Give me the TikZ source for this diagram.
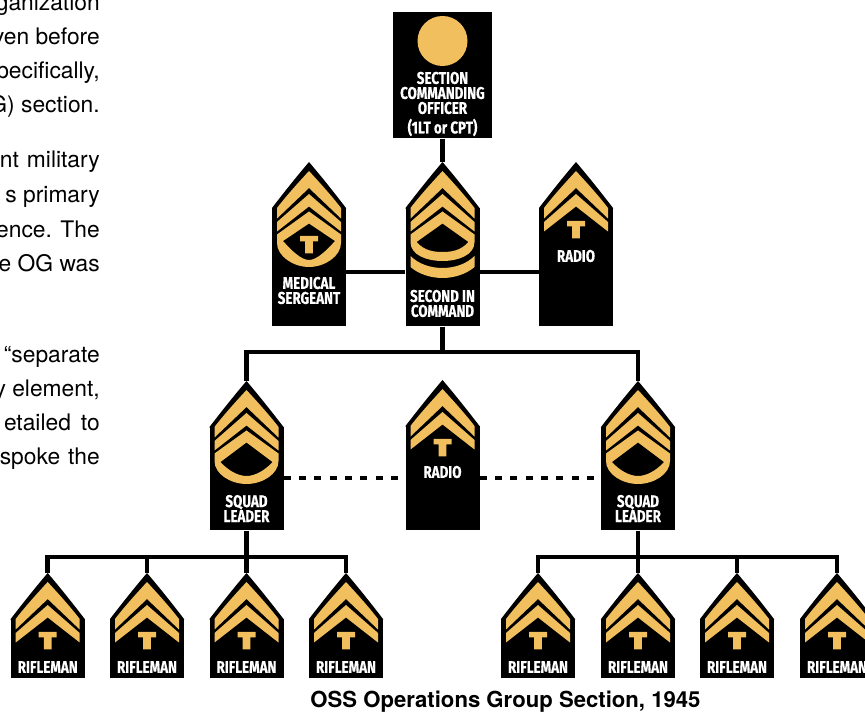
\documentclass[tikz,border=0pt]{standalone}
\usepackage{fontspec}
\setmainfont{TeX Gyre Heros}
\newfontfamily\labf[FakeStretch=0.785,BoldFeatures={FakeBold=0.5}]{Fira Sans}
\definecolor{gold}{RGB}{242,191,94}
\tikzset{
  badgebody/.style={fill=black,draw=none,inner sep=0pt,minimum width=55.5pt},
  goldfill/.style={fill=gold,draw=none},
  conn/.style={draw=black,line width=3.4pt,line cap=butt},
  dotconn/.style={draw=black,line width=3.6pt,dash pattern=on 5.2pt off 6.3pt},
  badgelabel/.style={text=white,inner sep=0pt,align=center,font=\labf\bfseries\fontsize{12.8pt}{11.2pt}\selectfont},
  bodytext/.style={anchor=base east,inner sep=0pt,font=\fontsize{17.1pt}{18pt}\selectfont},
}
% #1 name, #2 cx, #3 apex y, #4 bottom y
\newcommand{\badgeshape}[4]{%
  \coordinate (#1-top) at (#2,#3);
  \pgfmathsetmacro{\bshy}{#3+46}
  \pgfmathsetmacro{\bhgt}{(#4-\bshy)*0.75}
  \node[badgebody,minimum height=\bhgt pt,anchor=north] (#1) at (#2,\bshy) {};
  \begin{scope}[shift={(#2,#3)}]
  \fill[black] (0,0) .. controls (12.8,15) and (25.5,31) .. (37,46) -- (37,47) -- (-37,47) -- (-37,46) .. controls (-25.5,31) and (-12.8,15) .. (0,0) -- cycle;
  \end{scope}
}
\newcommand{\chevA}{%
  \fill[goldfill] (0,9) .. controls (11,21) and (22,33) .. (32,46) -- (32,56.5) -- (0,26) -- (-32,56.5) -- (-32,46) .. controls (-22,33) and (-11,21) .. (0,9) -- cycle;
  \fill[goldfill] (0,32) -- (32,60) -- (32,69.5) -- (0,44.5) -- (-32,69.5) -- (-32,60) -- cycle;}
\newcommand{\chevarc}[4]{% #1 outer bottom, #2 inner bottom, #3 inner end y, #4 outer side y
  \fill[goldfill,even odd rule] (0,49.5) -- (32,72.5) -- (32,#4) .. controls (32,#4+13) and (16,#1) .. (0,#1) .. controls (-16,#1) and (-32,#4+13) .. (-32,#4) -- (-32,72.5) -- cycle
   (0,61.5) -- (26,#3) .. controls (18,#3+9) and (8,#2) .. (0,#2) .. controls (-8,#2) and (-18,#3+9) .. (-26,#3) -- cycle;}
\newcommand{\teemark}[1]{% #1 top of the bar
  \fill[goldfill] (-9,#1) -- (9,#1) -- (9,#1+5.5) -- (3.8,#1+5.5) -- (3.8,#1+17.5) -- (-3.8,#1+17.5) -- (-3.8,#1+5.5) -- (-9,#1+5.5) -- cycle;}
\begin{document}
\begin{tikzpicture}[x=0.75pt,y=-0.75pt]
\useasboundingbox (0,0) rectangle (865,712);
% left text
\foreach \tid/\ty/\tx in {a/11/{ganization},b/45/{ven before},c/79/{pecifically,},d/113/{G) section.},
   e/168/{nt\hspace{6pt}military},f/203/{s primary},g/238/{ence. The},h/272/{e OG was},
   i/363/{``separate},j/397/{y element,},k/431/{etailed\hspace{7.5pt}to},l/465/{spoke\hspace{6pt}the}}
  {\node[bodytext] (txt\tid) at (100,\ty) {\tx};}
% commanding officer
\node[badgebody,minimum width=74.25pt,minimum height=94.5pt,anchor=north] (cso) at (442.5,12) {};
\node[circle,fill=gold,draw=none,minimum size=37.5pt,inner sep=0pt] (csoring) at (442.5,41) {};
\node[badgelabel] (csol1) at (442.5,78) {SECTION};
\node[badgelabel] (csol2) at (442.5,93) {COMMANDING};
\node[badgelabel] (csol3) at (442.5,108) {OFFICER};
\node[badgelabel] (csol4) at (442.5,127.5) {(1LT or CPT)};
% medical sergeant
\badgeshape{med}{309}{162}{326}
\begin{scope}[shift={(309,162)}]\chevA\chevarc{105}{98}{79}{81}\teemark{74}
\node[badgelabel] (medl) at (0,128.5) {MEDICAL\\SERGEANT};\end{scope}
% second in command
\badgeshape{sec}{442.5}{162}{326}
\begin{scope}[shift={(442.5,162)}]\chevA\chevarc{99}{90}{80}{80}
\fill[goldfill] (32,94) .. controls (24,102) and (12,106) .. (0,106) .. controls (-12,106) and (-24,102) .. (-32,94) -- (-32,105) .. controls (-24,112) and (-12,116) .. (0,116) .. controls (12,116) and (24,112) .. (32,105) -- cycle;
\node[badgelabel] (secl) at (0,141.5) {SECOND IN\\COMMAND};\end{scope}
% radio, top
\badgeshape{radt}{576}{162}{326}
\begin{scope}[shift={(576,162)}]\chevA\teemark{59}
\node[badgelabel] (radtl) at (0,94) {RADIO};\end{scope}
% squad leaders
\badgeshape{sql}{246.5}{381}{530}
\begin{scope}[shift={(246.5,381)}]\chevA\chevarc{103}{95}{81}{80}
\node[badgelabel] (sqll) at (0,127.5) {SQUAD\\LEADER};\end{scope}
\badgeshape{sqr}{638}{381}{530}
\begin{scope}[shift={(638,381)}]\chevA\chevarc{103}{95}{81}{80}
\node[badgelabel] (sqrl) at (0,127.5) {SQUAD\\LEADER};\end{scope}
% radio, middle
\badgeshape{radm}{442.5}{380}{530}
\begin{scope}[shift={(442.5,380)}]\chevA\teemark{59}
\node[badgelabel] (radml) at (0,92) {RADIO};\end{scope}
% riflemen
\foreach \rid/\rx in {a/47.7,b/147,c/246.5,d/346,e/538,f/638,g/737,h/837}{
  \badgeshape{rf\rid}{\rx}{573}{678}
  \begin{scope}[shift={(\rx,573)}]\chevA\teemark{59}
  \node[badgelabel] (rfl\rid) at (0,94) {RIFLEMAN};\end{scope}
}
% connectors
\coordinate (hubtop) at (442.5,272);
\coordinate (barmain) at (442.5,352);
\coordinate (barleft) at (246.5,557);
\coordinate (barright) at (638,557);
\coordinate (dotrow) at (442.5,478);
\draw[conn] (cso.south) -- (sec-top);
\draw[conn] (med.east |- hubtop) -- (sec.west |- hubtop);
\draw[conn] (sec.east |- hubtop) -- (radt.west |- hubtop);
\draw[conn] (sec.south) -- (barmain);
\draw[conn] (sql-top) |- (barmain) -| (sqr-top);
\draw[dotconn] (sql.east |- dotrow) -- (radm.west |- dotrow);
\draw[dotconn] (radm.east |- dotrow) -- (sqr.west |- dotrow);
\draw[conn] (sql.south) -- (barleft);
\draw[conn] (rfa-top) |- (barleft) -| (rfd-top);
\draw[conn] (rfb-top) -- (rfb-top |- barleft);
\draw[conn] (rfc-top) -- (rfc-top |- barleft);
\draw[conn] (sqr.south) -- (barright);
\draw[conn] (rfe-top) |- (barright) -| (rfh-top);
\draw[conn] (rff-top) -- (rff-top |- barright);
\draw[conn] (rfg-top) -- (rfg-top |- barright);
% caption
\node[anchor=base,inner sep=0pt,font=\bfseries\fontsize{16.6pt}{18pt}\selectfont] (caption) at (505.5,708) {OSS Operations Group Section, 1945};
\end{tikzpicture}
\end{document}
